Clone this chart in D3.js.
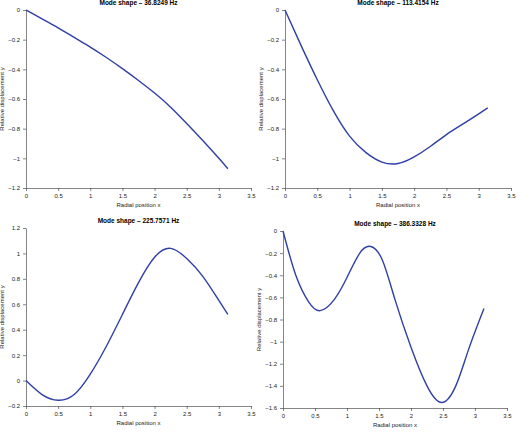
<!DOCTYPE html>
<html><head><meta charset="utf-8">
<script src="https://cdn.jsdelivr.net/npm/d3@7"></script>
<style>
body{margin:0;background:#fff}
text{font-family:"Liberation Sans",Arial,sans-serif}
.axis text{font-size:6px;fill:#222}
.axis path,.axis line{stroke:#333;stroke-width:0.6}
</style></head><body>
<svg id="c" width="520" height="432"></svg>
<script>
var titles = ['Mode shape \u2013 36.8249 Hz', 'Mode shape \u2013 113.4154 Hz', 'Mode shape \u2013 225.7571 Hz', 'Mode shape \u2013 386.3328 Hz'];
var xs1 = [0,0.25,0.5,0.75,1,1.25,1.5,1.75,2,2.25,2.5,2.75,3,3.14];
var y1 = [0,-0.06,-0.12,-0.185,-0.25,-0.32,-0.395,-0.475,-0.56,-0.655,-0.765,-0.88,-1.0,-1.07];
var y2 = [0,-0.24,-0.47,-0.68,-0.85,-0.96,-1.025,-1.035,-0.99,-0.92,-0.84,-0.77,-0.7,-0.66];
var y3 = [0,-0.11,-0.155,-0.11,0.05,0.27,0.52,0.77,0.97,1.04,0.96,0.82,0.63,0.52];
var xs4 = [0,0.2,0.4,0.58,0.8,1,1.2,1.37,1.55,1.75,2,2.25,2.48,2.7,2.9,3.14];
var y4 = [0,-0.4,-0.64,-0.72,-0.62,-0.42,-0.2,-0.14,-0.26,-0.62,-1.05,-1.4,-1.55,-1.4,-1.07,-0.7];
var yDomains = [[-1.2,0],[-1.2,0],[-0.2,1.2],[-1.6,0]];
var xTicks = [0,0.5,1,1.5,2,2.5,3,3.5];

var panels = [
    {x: xs1, y: y1, left: 26, right: 251, top: 10, bottom: 188},
    {x: xs1, y: y2, left: 285, right: 511, top: 10, bottom: 188},
    {x: xs1, y: y3, left: 26, right: 251, top: 228, bottom: 406},
    {x: xs4, y: y4, left: 283, right: 507, top: 231, bottom: 408}
];

var svg = d3.select('#c');

panels.forEach(function(p, i) {
    var x = d3.scaleLinear().domain([0, 3.5]).range([p.left, p.right]);
    var y = d3.scaleLinear().domain(yDomains[i]).range([p.bottom, p.top]);
    var g = svg.append('g');

    g.append('g').attr('class', 'axis')
        .attr('transform', 'translate(0,' + p.bottom + ')')
        .call(d3.axisBottom(x).tickValues(xTicks).tickSize(3).tickSizeOuter(0).tickFormat(d3.format('')));
    g.append('g').attr('class', 'axis')
        .attr('transform', 'translate(' + p.left + ',0)')
        .call(d3.axisLeft(y).ticks(8).tickSize(3).tickSizeOuter(0).tickFormat(function(d) {
            return d3.format('')(+d.toFixed(2)).replace('-', '\u2212');
        }));

    g.append('text').attr('x', (p.left + p.right) / 2).attr('y', p.top - 5)
        .attr('text-anchor', 'middle').attr('font-size', 6.5).attr('font-weight', 'bold')
        .text(titles[i]);
    g.append('text').attr('x', (p.left + p.right) / 2).attr('y', p.bottom + 19)
        .attr('text-anchor', 'middle').attr('font-size', 6).attr('fill', '#222')
        .text('Radial position x');
    g.append('text')
        .attr('transform', 'translate(' + (p.left - 22) + ',' + ((p.top + p.bottom) / 2) + ') rotate(-90)')
        .attr('text-anchor', 'middle').attr('font-size', 6).attr('fill', '#222')
        .text('Relative displacement y');

    var line = d3.line()
        .x(function(d) { return x(d[0]); })
        .y(function(d) { return y(d[1]); })
        .curve(d3.curveNatural);
    g.append('path')
        .datum(d3.zip(p.x, p.y))
        .attr('d', line)
        .attr('fill', 'none')
        .attr('stroke', '#2f3fa6')
        .attr('stroke-width', 1.4);
});
</script></body></html>
